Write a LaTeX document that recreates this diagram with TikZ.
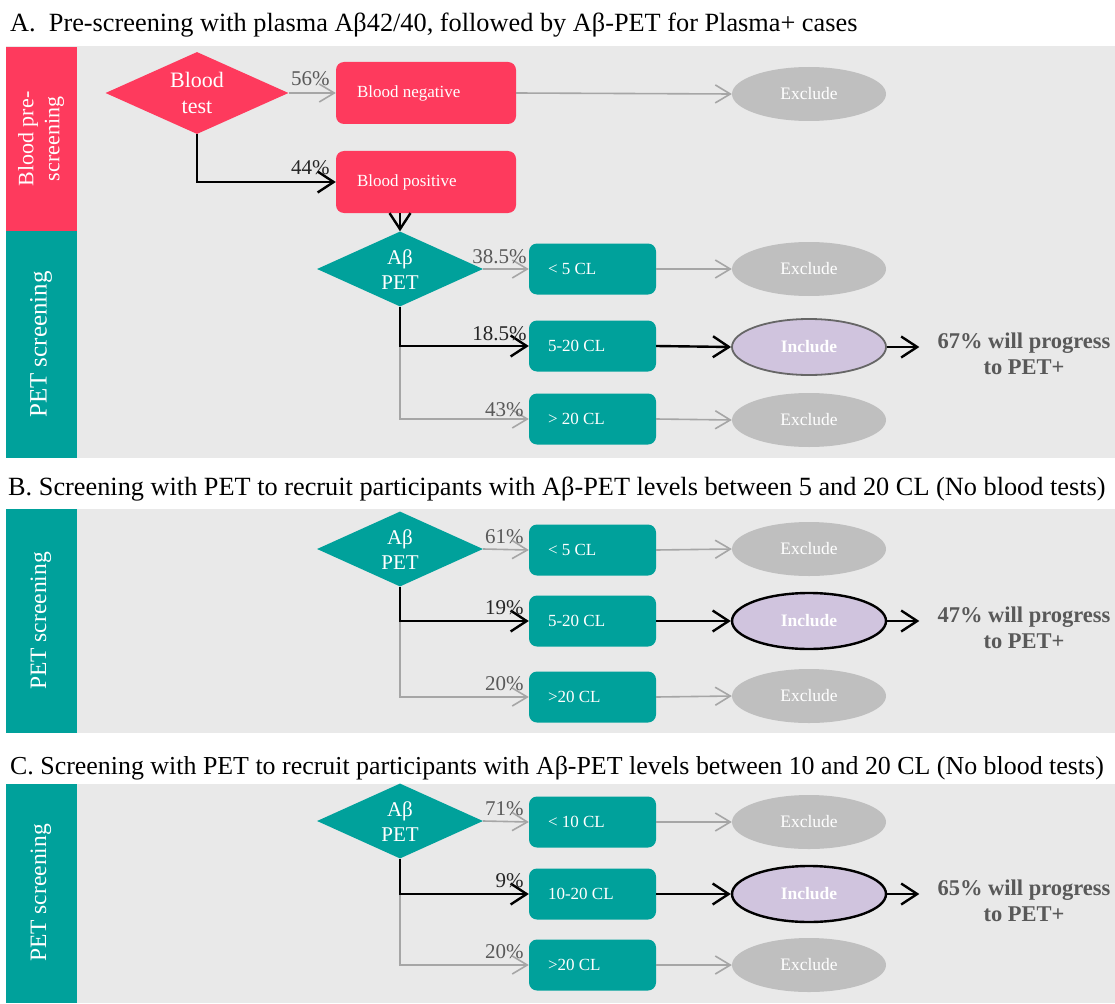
\documentclass[tikz,border=0pt]{standalone}
\usepackage{fontspec}
\setmainfont{Liberation Serif}
\usetikzlibrary{arrows.meta,shapes.geometric,calc}
\definecolor{bred}{HTML}{FE3A5D}
\definecolor{tealc}{HTML}{00A19B}
\definecolor{bgray}{HTML}{E9E9E9}
\definecolor{exgray}{HTML}{BFBFBF}
\definecolor{inclc}{HTML}{D0C4DE}
\definecolor{argray}{HTML}{A6A6A6}
\definecolor{txtgray}{HTML}{595959}
\definecolor{txtdark}{HTML}{262626}
\begin{document}
\begin{tikzpicture}[x=1pt,y=-1pt,
  dia/.style={diamond, draw=none, inner sep=0pt, minimum width=166pt, minimum height=75pt, fill=tealc},
  dtxt/.style={align=center, text=white, inner sep=0pt, font=\fontsize{21}{25}\selectfont},
  rbox/.style={rectangle, rounded corners=8pt, fill=tealc, minimum width=127pt, minimum height=51pt, inner sep=0pt},
  boxtxt/.style={text=white, anchor=west, inner sep=0pt, font=\fontsize{17}{20}\selectfont},
  exc/.style={ellipse, fill=exgray, minimum width=154pt, minimum height=54pt, inner sep=0pt, text=white, font=\fontsize{17.5}{20}\selectfont},
  inc/.style={ellipse, fill=inclc, minimum width=154pt, minimum height=56pt, inner sep=0pt, text=white, font=\bfseries\fontsize{17.5}{20}\selectfont},
  garrow/.style={draw=argray, line width=1.6pt, -{Straight Barb[length=15pt,width=18pt]}},
  barrow/.style={draw=black, line width=2.4pt, -{Straight Barb[length=16pt,width=21pt]}},
  pct/.style={anchor=base east, inner sep=0pt, text=txtgray, font=\fontsize{21}{24}\selectfont},
  pctb/.style={pct, text=txtdark},
  prog/.style={align=center, inner sep=0pt, text=txtgray, font=\bfseries\fontsize{22.5}{26}\selectfont},
  ttl/.style={anchor=west, inner sep=0pt, font=\fontsize{26.3}{30}\selectfont},
  bartxt/.style={rotate=90, align=center, text=white, inner sep=0pt, font=\fontsize{23.5}{26}\selectfont},
]
\useasboundingbox (0,0) rectangle (1115,1003);
\fill[white] (0,0) rectangle (1115,1003);

% ================= Panel A =================
\node[ttl] (tA) at (10,25) {A.\ \ Pre-screening with plasma Aβ42/40, followed by Aβ-PET for Plasma+ cases};
\fill[bgray] (6,46) rectangle (1115,458);
\fill[bred] (6,47) rectangle (77,231);
\fill[tealc] (6,231) rectangle (77,458);
\node[bartxt, font=\fontsize{22}{26}\selectfont] (barA1) at (41,139) {Blood pre-\\screening};
\node[bartxt, font=\fontsize{25}{28}\selectfont] (barA2) at (41,344.5) {PET screening};

\node[dia, fill=bred, minimum width=183pt, minimum height=82pt] (bt) at (197,93) {};
\node[dtxt, font=\fontsize{22}{26}\selectfont] (btt) at (bt) {Blood\\test};
\node[rbox, fill=bred, minimum width=180pt, minimum height=62pt] (bn) at (426,93) {};
\node[boxtxt] (bnt) at ($(bn.west)+(21,0)$) {Blood negative};
\node[rbox, fill=bred, minimum width=180pt, minimum height=62pt] (bp) at (426,182) {};
\node[boxtxt] (bpt) at ($(bp.west)+(21,0)$) {Blood positive};
\node[exc] (exA0) at (809,94) {Exclude};

\draw[garrow] (bt.east) -- (bn.west);
\node[pct] (pA0) at ($(bn.west)+(-6,-7)$) {56\%};
\draw[barrow] (bt.south) |- (bp.west);
\node[pctb] (pA00) at ($(bp.west)+(-6,-7)$) {44\%};
\draw[garrow] (bn.east) -- (exA0.west);

\node[dia] (paA) at (400,269) {};
\node[dtxt] (paAt) at (400,270) {Aβ\\PET};
\draw[barrow] (bp.south -| paA.north) -- (paA.north);

\node[rbox] (lA1) at (592.5,269) {};
\node[boxtxt] (lA1t) at ($(lA1.west)+(19,0)$) {< 5 CL};
\node[rbox] (lA2) at (592.5,346) {};
\node[boxtxt] (lA2t) at ($(lA2.west)+(19,0)$) {5-20 CL};
\node[rbox] (lA3) at (592.5,419) {};
\node[boxtxt] (lA3t) at ($(lA3.west)+(19,0)$) {> 20 CL};
\node[exc] (exA1) at (809,269) {Exclude};
\node[inc, draw=black!60, line width=1.8pt] (inA) at (809,347) {Include};
\node[exc] (exA3) at (809,420) {Exclude};
\node[prog] (prA) at (1024,354) {67\% will progress\\to PET+};

\draw[garrow] (paA.east) -- (lA1.west);
\draw[garrow] (paA.south |- lA2.west) |- (lA3.west);
\draw[barrow] (paA.south) |- (lA2.west);
\node[pct] at ($(lA1.west)+(-2,-6)$) {38.5\%};
\node[pctb] at ($(lA2.west)+(-2,-6)$) {18.5\%};
\node[pct] at ($(lA3.west)+(-5,-3)$) {43\%};
\draw[garrow] (lA1.east) -- (exA1.west);
\draw[barrow] (lA2.east) -- (inA.west);
\draw[garrow] (lA3.east) -- (exA3.west);
\draw[barrow, shorten >=18pt] (inA.east) -- (inA.east -| prA.west);

% ================= Panel B =================
\node[ttl] (tB) at (8,489) {B. Screening with PET to recruit participants with Aβ-PET levels between 5 and 20 CL (No blood tests)};
\fill[bgray] (6,509) rectangle (1115,733);
\fill[tealc] (6,509) rectangle (77,733);
\node[bartxt] (barB) at (41,621) {PET screening};

\node[dia] (paB) at (400,549) {};
\node[dtxt] (paBt) at (400,550) {Aβ\\PET};
\node[rbox] (lB1) at (592.5,550) {};
\node[boxtxt] at ($(lB1.west)+(19,0)$) {< 5 CL};
\node[rbox] (lB2) at (592.5,621) {};
\node[boxtxt] at ($(lB2.west)+(19,0)$) {5-20 CL};
\node[rbox] (lB3) at (592.5,697) {};
\node[boxtxt] at ($(lB3.west)+(19,0)$) {>20 CL};
\node[exc] (exB1) at (809,549) {Exclude};
\node[inc, draw=black, line width=2.4pt] (inB) at (809,621) {Include};
\node[exc] (exB3) at (809,696) {Exclude};
\node[prog] (prB) at (1024,628) {47\% will progress\\to PET+};

\draw[garrow] (paB.east) -- (lB1.west);
\draw[garrow] (paB.south |- lB2.west) |- (lB3.west);
\draw[barrow] (paB.south) |- (lB2.west);
\node[pct] at ($(lB1.west)+(-5,-7)$) {61\%};
\node[pctb] at ($(lB2.west)+(-5,-7)$) {19\%};
\node[pct] at ($(lB3.west)+(-5,-7)$) {20\%};
\draw[garrow] (lB1.east) -- (exB1.west);
\draw[barrow] (lB2.east) -- (inB.west);
\draw[garrow] (lB3.east) -- (exB3.west);
\draw[barrow, shorten >=18pt] (inB.east) -- (inB.east -| prB.west);

% ================= Panel C =================
\node[ttl, font=\fontsize{25.9}{30}\selectfont] (tC) at (10,768) {C. Screening with PET to recruit participants with Aβ-PET levels between 10 and 20 CL (No blood tests)};
\fill[bgray] (6,784) rectangle (1115,1003);
\fill[tealc] (6,784) rectangle (77,1003);
\node[bartxt] (barC) at (41,893) {PET screening};

\node[dia] (paC) at (400,821) {};
\node[dtxt] (paCt) at (400,822) {Aβ\\PET};
\node[rbox] (lC1) at (592.5,822) {};
\node[boxtxt] at ($(lC1.west)+(19,0)$) {< 10 CL};
\node[rbox] (lC2) at (592.5,894) {};
\node[boxtxt] at ($(lC2.west)+(19,0)$) {10-20 CL};
\node[rbox] (lC3) at (592.5,965) {};
\node[boxtxt] at ($(lC3.west)+(19,0)$) {>20 CL};
\node[exc] (exC1) at (809,822) {Exclude};
\node[inc, draw=black, line width=2.4pt] (inC) at (809,894) {Include};
\node[exc] (exC3) at (809,965) {Exclude};
\node[prog] (prC) at (1024,901) {65\% will progress\\to PET+};

\draw[garrow] (paC.east) -- (lC1.west);
\draw[garrow] (paC.south |- lC2.west) |- (lC3.west);
\draw[barrow] (paC.south) |- (lC2.west);
\node[pct] at ($(lC1.west)+(-5,-7)$) {71\%};
\node[pctb] at ($(lC2.west)+(-5,-7)$) {9\%};
\node[pct] at ($(lC3.west)+(-5,-7)$) {20\%};
\draw[garrow] (lC1.east) -- (exC1.west);
\draw[barrow] (lC2.east) -- (inC.west);
\draw[garrow] (lC3.east) -- (exC3.west);
\draw[barrow, shorten >=18pt] (inC.east) -- (inC.east -| prC.west);
\end{tikzpicture}
\end{document}
